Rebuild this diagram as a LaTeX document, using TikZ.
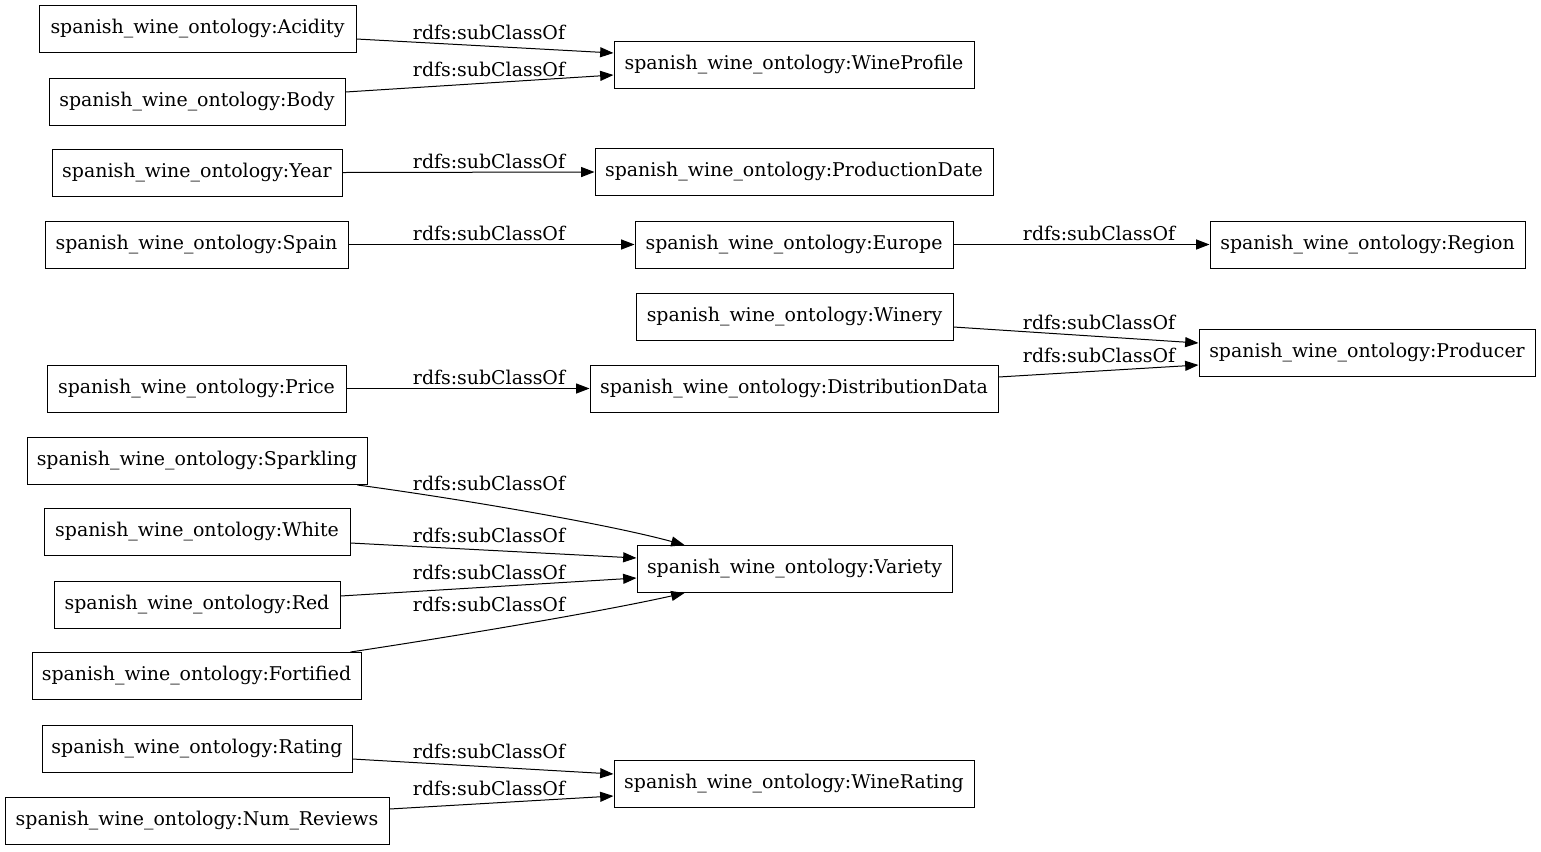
\documentclass[tikz,border=0pt]{standalone}
\usepackage{fontspec}
\setmainfont{DejaVu Serif}
\usetikzlibrary{arrows.meta,calc}
\begin{document}
\begin{tikzpicture}[x=0.75pt,y=-0.75pt,
  cls/.style={draw, line width=0.75pt, rectangle, minimum height=35.25pt, inner sep=0pt, font=\fontsize{14.2}{16}\selectfont},
  lbl/.style={inner sep=0pt, font=\fontsize{14.2}{16}\selectfont},
  arr/.style={line width=0.75pt, -{Triangle[length=10pt,width=7.5pt]}}]
\useasboundingbox (0,0) rectangle (1541,851);
% left column
\node[cls, minimum width=237.75pt] (acid) at (197.5,28.5) {spanish\_wine\_ontology:Acidity};
\node[cls, minimum width=222pt] (body) at (197,101.5) {spanish\_wine\_ontology:Body};
\node[cls, minimum width=217.5pt] (year) at (197,172.5) {spanish\_wine\_ontology:Year};
\node[cls, minimum width=227.25pt] (spain) at (196.5,244.5) {spanish\_wine\_ontology:Spain};
\node[cls, minimum width=224.25pt] (price) at (196.5,388.5) {spanish\_wine\_ontology:Price};
\node[cls, minimum width=255pt] (spark) at (197,461) {spanish\_wine\_ontology:Sparkling};
\node[cls, minimum width=229.5pt] (white) at (197,531.5) {spanish\_wine\_ontology:White};
\node[cls, minimum width=214.5pt] (red) at (197,604.5) {spanish\_wine\_ontology:Red};
\node[cls, minimum width=246.75pt] (fort) at (196.5,676) {spanish\_wine\_ontology:Fortified};
\node[cls, minimum width=232.5pt] (rating) at (197,748.5) {spanish\_wine\_ontology:Rating};
\node[cls, minimum width=288pt] (num) at (197,821) {spanish\_wine\_ontology:Num\_Reviews};
% middle column
\node[cls, minimum width=270pt] (wp) at (794,65) {spanish\_wine\_ontology:WineProfile};
\node[cls, minimum width=298.5pt] (pd) at (794,172) {spanish\_wine\_ontology:ProductionDate};
\node[cls, minimum width=238.5pt] (eur) at (794,244.5) {spanish\_wine\_ontology:Europe};
\node[cls, minimum width=237.75pt] (win) at (794.5,316.5) {spanish\_wine\_ontology:Winery};
\node[cls, minimum width=306pt] (dist) at (794,388.5) {spanish\_wine\_ontology:DistributionData};
\node[cls, minimum width=236.25pt] (var) at (794.5,569) {spanish\_wine\_ontology:Variety};
\node[cls, minimum width=270pt] (wr) at (794,784) {spanish\_wine\_ontology:WineRating};
% right column
\node[cls, minimum width=236.25pt] (reg) at (1367.5,244.5) {spanish\_wine\_ontology:Region};
\node[cls, minimum width=252pt] (prod) at (1367,353) {spanish\_wine\_ontology:Producer};
% edges
\draw[arr] ($(acid.east)+(0,10.5)$) -- ($(wp.west)+(0,-12)$);
\draw[arr] ($(body.east)+(0,-9.5)$) -- ($(wp.west)+(0,10)$);
\draw[arr] (year.east) -- (pd.west);
\draw[arr] (spain.east) -- (eur.west);
\draw[arr] (eur.east) -- (reg.west);
\draw[arr] ($(win.east)+(0,10.5)$) -- ($(prod.west)+(0,-10)$);
\draw[arr] ($(dist.east)+(0,-11.5)$) -- ($(prod.west)+(0,12)$);
\draw[arr] (price.east) -- (dist.west);
\draw[arr] ($(spark.south east)+(-10,0)$) .. controls (440,496) and (600,522) .. ($(var.north west)+(48,0)$);
\draw[arr] ($(white.east)+(0,11.5)$) -- ($(var.west)+(0,-11)$);
\draw[arr] ($(red.east)+(0,-8.5)$) -- ($(var.west)+(0,9)$);
\draw[arr] ($(fort.north east)+(-11,0)$) .. controls (450,637) and (600,612) .. ($(var.south west)+(48,0)$);
\draw[arr] ($(rating.east)+(0,10.5)$) -- ($(wr.west)+(0,-10)$);
\draw[arr] ($(num.east)+(0,-12)$) -- ($(wr.west)+(0,12)$);
% labels
\node[lbl] (l1) at (489,32) {rdfs:subClassOf};
\node[lbl] (l2) at (489,69) {rdfs:subClassOf};
\node[lbl] (l3) at (489,161) {rdfs:subClassOf};
\node[lbl] (l4) at (489,233) {rdfs:subClassOf};
\node[lbl] (l5) at (1099,233) {rdfs:subClassOf};
\node[lbl] (l6) at (1099,322) {rdfs:subClassOf};
\node[lbl] (l7) at (1099,355) {rdfs:subClassOf};
\node[lbl] (l8) at (489,377) {rdfs:subClassOf};
\node[lbl] (l9) at (489,483) {rdfs:subClassOf};
\node[lbl] (l10) at (489,535) {rdfs:subClassOf};
\node[lbl] (l11) at (489,572) {rdfs:subClassOf};
\node[lbl] (l12) at (489,604) {rdfs:subClassOf};
\node[lbl] (l13) at (489,751) {rdfs:subClassOf};
\node[lbl] (l14) at (489,788) {rdfs:subClassOf};
\end{tikzpicture}
\end{document}
